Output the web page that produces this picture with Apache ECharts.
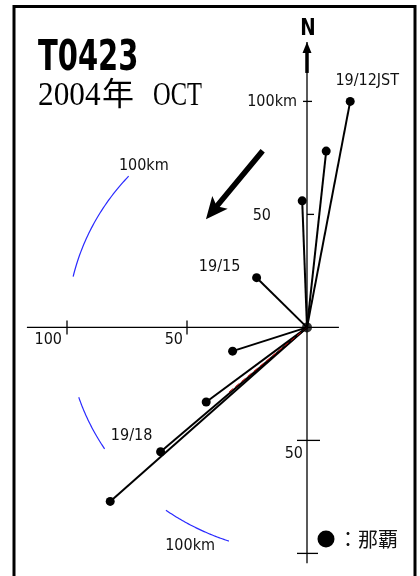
<!DOCTYPE html>
<html><head><meta charset="utf-8">
<script src="https://cdn.jsdelivr.net/npm/echarts@6/dist/echarts.min.js"></script>
<style>html,body{margin:0;padding:0;background:#fff}#c{width:420px;height:576px}</style>
</head><body><div id="c"></div>
<script>
// ---- data (km east / km north of Naha) ----
const times = ['19/12JST', '19/13', '19/14', '19/15', '19/16', '19/17', '19/18', '19/19'];
const eastKm = [18, 8, -2, -21, -31, -42, -61, -82];
const northKm = [100, 78, 56, 22, -10.5, -33, -55, -77];
const shownTimeLabels = ['19/12JST', '', '', '19/15', '', '', '19/18', ''];
const xTicks = [-100, -50];
const xTickLabels = ['100', '50'];
const yTicks = [100, 50, -50, -100];
const yTickLabels = ['100km', '50', '50', ''];
const xAxisExtent = [-116.7, 13.3];
const yAxisExtent = [-104.4, 126.3];
const ringRadiusKm = 100;
const ringArcsDeg = [[138, 167], [198, 212.5], [234, 251]];
const ringLabelPos = [[-68, 71.5], [-48.7, -96.5]];
const ringLabelText = '100km';
const motionArrow = [[-19.2, 77.2], [-42.1, 47.8]];
const redTrack = [[0, 0], [-33, -29]];

// ---- styles ----
const FONT = "'DejaVu Sans Condensed','Liberation Sans Narrow','DejaVu Sans',sans-serif";
const timeLabelOffsets = [[17, -21], null, null, [-37, -11], null, null, [-29, -16], null];
const xTickLabelOffsets = [[-5, 12], [-4, 12]];
const yTickLabelOffsets = [[-10, 0], [-36, 1], [-4, 13], [0, 0]];
const yTickSpans = [[-4, 5], [0, 7], [-10, 13], [-10, 11]];

const vectors = eastKm.map((x, i) => [x, northKm[i], i]);

const chart = echarts.init(document.getElementById('c'), null, {renderer: 'canvas'});

const option = {
  animation: false,
  backgroundColor: '#fff',
  grid: {left: 19, top: 33.6, width: 384, height: 547.2},
  xAxis: {type: 'value', min: -120, max: 40, show: false},
  yAxis: {type: 'value', min: -110, max: 130, show: false},
  graphic: [
    {type: 'rect', shape: {x: 14, y: 6.5, width: 401, height: 620},
     style: {fill: 'none', stroke: '#000', lineWidth: 3}, z: 100},
    {type: 'text', x: 38, y: 38, scaleX: 0.69, scaleY: 1,
     style: {text: 'T0423', font: "bold 42px 'DejaVu Sans'", fill: '#000', textVerticalAlign: 'top'}},
    {type: 'text', x: 38, y: 79, scaleX: 0.92,
     style: {text: '2004', font: "34px 'Liberation Serif'", fill: '#000', textVerticalAlign: 'top'}},
    {type: 'text', x: 102, y: 77,
     style: {text: '年', font: "32px 'Noto Sans CJK JP'", fill: '#000', textVerticalAlign: 'top'}},
    {type: 'text', x: 153, y: 79, scaleX: 0.72,
     style: {text: 'OCT', font: "34px 'Liberation Serif'", fill: '#000', textVerticalAlign: 'top'}},
    {type: 'circle', shape: {cx: 326, cy: 539, r: 8.5}, style: {fill: '#000'}},
    {type: 'text', x: 338, y: 539,
     style: {text: '：那覇', font: "20px 'Noto Sans CJK JP'", fill: '#111', textVerticalAlign: 'middle'}}
  ],
  series: [
    // axes, ticks, north arrow, tick labels
    {
      type: 'custom', clip: false, silent: true, z: 2,
      data: [[0, 0]],
      renderItem: function (params, api) {
        const xa = api.coord([xAxisExtent[0], 0]), xb = api.coord([xAxisExtent[1], 0]);
        const ya = api.coord([0, yAxisExtent[0]]), yb = api.coord([0, yAxisExtent[1]]);
        const ch = [
          {type: 'line', shape: {x1: xa[0], y1: xa[1], x2: xb[0], y2: xb[1]}, style: {stroke: '#000', lineWidth: 1.3}},
          {type: 'line', shape: {x1: ya[0], y1: ya[1], x2: yb[0], y2: yb[1]}, style: {stroke: '#000', lineWidth: 1.3}},
          // north arrow shaft + head
          {type: 'line', shape: {x1: yb[0], y1: yb[1] + 8, x2: yb[0], y2: yb[1] + 31}, style: {stroke: '#000', lineWidth: 3.5}},
          {type: 'polygon', shape: {points: [[yb[0], yb[1]], [yb[0] - 4.5, yb[1] + 11], [yb[0] + 4.5, yb[1] + 11]]}, style: {fill: '#000'}},
          {type: 'text', x: yb[0] + 1, y: yb[1] - 13, scaleX: 0.8,
           style: {text: 'N', font: "bold 23px 'DejaVu Sans'", fill: '#000', align: 'center', verticalAlign: 'middle'}}
        ];
        xTicks.forEach((t, i) => {
          const p = api.coord([t, 0]);
          ch.push({type: 'line', shape: {x1: p[0], y1: p[1] - 7, x2: p[0], y2: p[1] + 7}, style: {stroke: '#000', lineWidth: 1.3}});
          ch.push({type: 'text', x: p[0] + xTickLabelOffsets[i][0], y: p[1] + xTickLabelOffsets[i][1],
            style: {text: xTickLabels[i], font: '16px ' + FONT, fill: '#111', align: 'right', verticalAlign: 'middle'}});
        });
        yTicks.forEach((t, i) => {
          const p = api.coord([0, t]);
          ch.push({type: 'line', shape: {x1: p[0] + yTickSpans[i][0], y1: p[1], x2: p[0] + yTickSpans[i][1], y2: p[1]}, style: {stroke: '#000', lineWidth: 1.3}});
          if (yTickLabels[i]) ch.push({type: 'text', x: p[0] + yTickLabelOffsets[i][0], y: p[1] + yTickLabelOffsets[i][1],
            style: {text: yTickLabels[i], font: '16px ' + FONT, fill: '#111', align: 'right', verticalAlign: 'middle'}});
        });
        return {type: 'group', children: ch};
      }
    },
    // 100 km ring arcs
    {
      type: 'custom', clip: false, silent: true, z: 2,
      data: ringArcsDeg,
      renderItem: function (params, api) {
        const a0 = api.value(0), a1 = api.value(1);
        const pts = [];
        for (let k = 0; k <= 40; k++) {
          const a = (a0 + (a1 - a0) * k / 40) * Math.PI / 180;
          pts.push(api.coord([ringRadiusKm * Math.cos(a), ringRadiusKm * Math.sin(a)]));
        }
        const ch = [{type: 'polyline', shape: {points: pts}, style: {stroke: '#2a2aff', lineWidth: 1.2, fill: 'none'}}];
        return {type: 'group', children: ch};
      }
    },
    // ring labels
    {
      type: 'custom', clip: false, silent: true, z: 2,
      data: ringLabelPos,
      renderItem: function (params, api) {
        const p = api.coord([api.value(0), api.value(1)]);
        return {type: 'text', x: p[0], y: p[1],
          style: {text: ringLabelText, font: '16px ' + FONT, fill: '#111', align: 'center', verticalAlign: 'middle'}};
      }
    },
    // motion arrow
    {
      type: 'custom', clip: false, silent: true, z: 3,
      data: [[motionArrow[0][0], motionArrow[0][1], motionArrow[1][0], motionArrow[1][1]]],
      renderItem: function (params, api) {
        const s = api.coord([api.value(0), api.value(1)]);
        const e = api.coord([api.value(2), api.value(3)]);
        const dx = e[0] - s[0], dy = e[1] - s[1], L = Math.hypot(dx, dy);
        const ux = dx / L, uy = dy / L, nx = -uy, ny = ux;
        const hl = 22, hw = 10;
        const bx = e[0] - ux * hl, by = e[1] - uy * hl;
        return {type: 'group', children: [
          {type: 'line', shape: {x1: s[0], y1: s[1], x2: bx + ux * 4, y2: by + uy * 4}, style: {stroke: '#000', lineWidth: 5.5, lineCap: 'square'}},
          {type: 'polygon', shape: {points: [[e[0], e[1]], [bx + nx * hw, by + ny * hw], [bx + ux * 5, by + uy * 5], [bx - nx * hw, by - ny * hw]]}, style: {fill: '#000'}}
        ]};
      }
    },
    // red track
    {
      type: 'custom', clip: false, silent: true, z: 5,
      data: [[redTrack[0][0], redTrack[0][1], redTrack[1][0], redTrack[1][1]]],
      renderItem: function (params, api) {
        const s = api.coord([api.value(0), api.value(1)]);
        const e = api.coord([api.value(2), api.value(3)]);
        return {type: 'line', shape: {x1: s[0], y1: s[1], x2: e[0], y2: e[1]}, style: {stroke: '#c00000', lineWidth: 1, lineDash: [5, 3]}};
      }
    },
    // hourly displacement vectors
    {
      type: 'custom', clip: false, silent: true, z: 4,
      data: vectors,
      renderItem: function (params, api) {
        const o = api.coord([0, 0]);
        const p = api.coord([api.value(0), api.value(1)]);
        const i = api.value(2);
        const ch = [
          {type: 'line', shape: {x1: o[0], y1: o[1], x2: p[0], y2: p[1]}, style: {stroke: '#000', lineWidth: 2}},
          {type: 'circle', shape: {cx: p[0], cy: p[1], r: 4.5}, style: {fill: '#000'}}
        ];
        if (shownTimeLabels[i]) ch.push({type: 'text', x: p[0] + timeLabelOffsets[i][0], y: p[1] + timeLabelOffsets[i][1],
          style: {text: shownTimeLabels[i], font: '16px ' + FONT, fill: '#111', align: 'center', verticalAlign: 'middle'}});
        return {type: 'group', children: ch};
      }
    },
    // origin marker (Naha)
    {
      type: 'scatter', silent: true, z: 6,
      data: [[0, 0]], symbol: 'circle', symbolSize: 10,
      itemStyle: {color: '#000'}
    }
  ]
};
chart.setOption(option);
</script>
</body></html>
